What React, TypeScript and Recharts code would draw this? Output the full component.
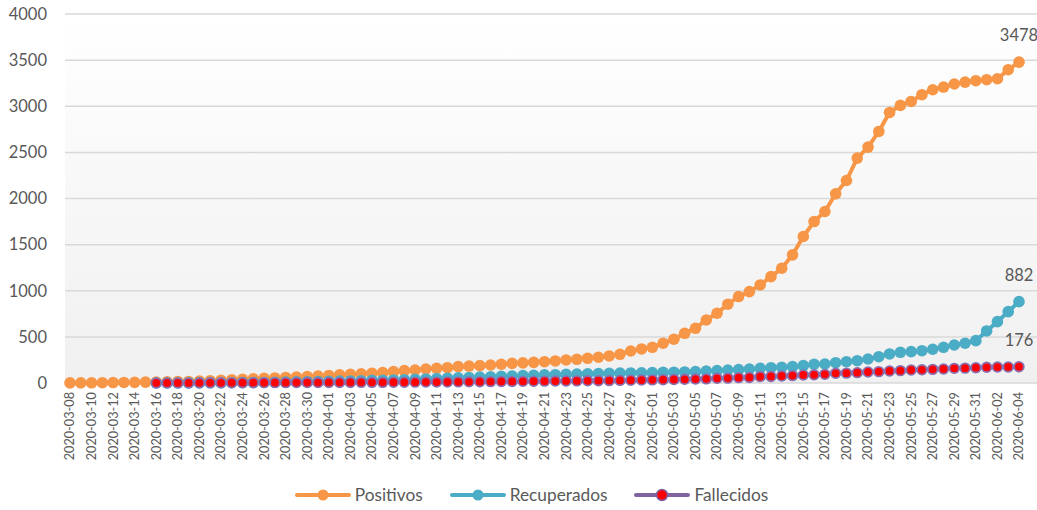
import React from 'react';
import { LineChart, Line, XAxis, YAxis, CartesianGrid, LabelList } from 'recharts';

const fechas: string[] = [
    '2020-03-08', '2020-03-09', '2020-03-10', '2020-03-11', '2020-03-12', '2020-03-13', '2020-03-14', '2020-03-15',
    '2020-03-16', '2020-03-17', '2020-03-18', '2020-03-19', '2020-03-20', '2020-03-21', '2020-03-22', '2020-03-23',
    '2020-03-24', '2020-03-25', '2020-03-26', '2020-03-27', '2020-03-28', '2020-03-29', '2020-03-30', '2020-03-31',
    '2020-04-01', '2020-04-02', '2020-04-03', '2020-04-04', '2020-04-05', '2020-04-06', '2020-04-07', '2020-04-08',
    '2020-04-09', '2020-04-10', '2020-04-11', '2020-04-12', '2020-04-13', '2020-04-14', '2020-04-15', '2020-04-16',
    '2020-04-17', '2020-04-18', '2020-04-19', '2020-04-20', '2020-04-21', '2020-04-22', '2020-04-23', '2020-04-24',
    '2020-04-25', '2020-04-26', '2020-04-27', '2020-04-28', '2020-04-29', '2020-04-30', '2020-05-01', '2020-05-02',
    '2020-05-03', '2020-05-04', '2020-05-05', '2020-05-06', '2020-05-07', '2020-05-08', '2020-05-09', '2020-05-10',
    '2020-05-11', '2020-05-12', '2020-05-13', '2020-05-14', '2020-05-15', '2020-05-16', '2020-05-17', '2020-05-18',
    '2020-05-19', '2020-05-20', '2020-05-21', '2020-05-22', '2020-05-23', '2020-05-24', '2020-05-25', '2020-05-26',
    '2020-05-27', '2020-05-28', '2020-05-29', '2020-05-30', '2020-05-31', '2020-06-01', '2020-06-02', '2020-06-03',
    '2020-06-04',
];

const positivos: number[] = [
    1, 1, 2, 3, 5, 6, 7, 9,
    10, 12, 15, 17, 20, 25, 30, 35, 40, 45, 50, 55, 60, 65, 70, 75, 82, 88, 93, 100, 106,
    112, 123, 134, 141, 152, 159, 166, 177, 184, 188, 195, 203, 213, 218, 224, 231, 239, 250, 257, 268,
    279, 293, 311, 347, 369, 387, 431, 474, 539, 593, 683,
    756, 854, 937, 991, 1063, 1153, 1244, 1389, 1588, 1750, 1859, 2051, 2195, 2438, 2557, 2727,
    2933, 3009, 3052, 3125, 3179, 3208, 3241, 3262, 3277, 3288, 3298, 3396, 3478,
];

const recuperados: (number | null)[] = [
    null, null, null, null, null, null, null, null,
    0, 0, 0, 1, 1, 2, 2, 3,
    4, 5, 6, 8, 10, 12, 14, 16,
    18, 20, 22, 25, 28, 30, 33, 36,
    40, 44, 48, 52, 56, 60, 64, 68,
    72, 76, 80, 84, 88, 90, 93, 96,
    99, 102, 105, 107, 109, 111, 113, 115, 117, 120,
    123, 130, 134, 141, 145, 152, 159, 166, 170, 177, 188, 203, 206, 220, 231, 242,
    260, 285, 315, 333, 340, 350, 366, 387, 412, 431, 459, 564, 665, 774, 882,
];

const fallecidos: (number | null)[] = [
    null, null, null, null, null, null, null, null,
    1, 1, 1, 1, 2, 2, 2, 3,
    3, 3, 4, 4, 4, 5, 5, 5,
    6, 6, 6, 7, 7, 7, 8, 8,
    9, 10, 10, 11, 12, 13, 14, 15,
    16, 17, 18, 19, 20, 21, 22, 23,
    24, 25, 26, 28, 30, 32, 34, 36, 38, 40,
    43, 45, 51, 53, 58, 60, 69, 71, 76, 80, 87, 89, 94, 105, 107, 112,
    119, 123, 130, 134, 141, 143, 148, 152, 159, 161, 166, 170, 173, 174, 176,
];

const yTicks: number[] = [0, 500, 1000, 1500, 2000, 2500, 3000, 3500, 4000];

const data = fechas.map((fecha, i) => ({
    fecha,
    Positivos: positivos[i],
    Recuperados: recuperados[i],
    Fallecidos: fallecidos[i],
}));

const FONT = 'Lato, "Open Sans", sans-serif';
const TEXT = '#595959';
const NARANJA = '#f79646';
const AZUL = '#4bacc6';
const MORADO = '#8064a2';
const ROJO = '#ff0000';
const LAST = fechas.length - 1;

const DateTick = (props: any) => {
    const { x, y, payload } = props;
    return (
        <text
            x={x}
            y={y}
            transform={`rotate(-90, ${x}, ${y})`}
            textAnchor="end"
            dy="0.35em"
            fontSize={12.7}
            fontFamily={FONT}
            fill={TEXT}
        >
            {payload.value}
        </text>
    );
};

const EndLabel = (props: any) => {
    const { x, y, index, value } = props;
    if (index !== LAST) return null;
    return (
        <text x={x} y={y - 27} textAnchor="middle" dominantBaseline="central" fontSize={16.5} fontFamily={FONT} fill={TEXT}>
            {value}
        </text>
    );
};

const legendItems = [
    { name: 'Positivos', line: NARANJA, dot: NARANJA },
    { name: 'Recuperados', line: AZUL, dot: AZUL },
    { name: 'Fallecidos', line: MORADO, dot: ROJO },
];

const Leyenda = () => (
    <div style={{ display: 'flex', justifyContent: 'center', alignItems: 'center', fontFamily: FONT, fontSize: 17.3, color: TEXT, paddingLeft: 26 }}>
        {legendItems.map((it, i) => (
            <div key={it.name} style={{ display: 'flex', alignItems: 'center', marginRight: i < legendItems.length - 1 ? 27 : 0 }}>
                <svg width={56} height={14} style={{ marginRight: 4 }}>
                    <line x1={2} y1={7} x2={54} y2={7} stroke={it.line} strokeWidth={4} strokeLinecap="round" />
                    <circle cx={28} cy={7} r={5.5} fill={it.dot} stroke={it.line} strokeWidth={it.dot === it.line ? 0 : 1.5} />
                </svg>
                <span>{it.name}</span>
            </div>
        ))}
    </div>
);

const App: React.FC = () => {
    return (
        <div style={{ position: 'absolute', left: 0, top: 0, width: 1037, height: 510, background: '#ffffff' }}>
            <LineChart width={1037} height={478} data={data} margin={{ top: 14, right: 0, left: 0, bottom: 0 }}>
                <defs>
                    <linearGradient id="fondo" x1="0" y1="0" x2="0" y2="1">
                        <stop offset="0%" stopColor="#ffffff" />
                        <stop offset="100%" stopColor="#f0f0f0" />
                    </linearGradient>
                </defs>
                <CartesianGrid vertical={false} stroke="#d9d9d9" strokeWidth={1.5} fill="url(#fondo)" />
                <XAxis
                    dataKey="fecha"
                    interval={1}
                    tick={<DateTick />}
                    tickLine={false}
                    axisLine={false}
                    tickSize={0}
                    tickMargin={9}
                    height={95}
                    padding={{ left: 5, right: 18 }}
                />
                <YAxis
                    domain={[0, 4000]}
                    ticks={yTicks}
                    tickLine={false}
                    axisLine={false}
                    tickSize={0}
                    tickMargin={18}
                    width={65}
                    tick={{ fontSize: 16.5, fontFamily: FONT, fill: TEXT }}
                />
                <Line
                    dataKey="Positivos"
                    type="linear"
                    stroke={NARANJA}
                    strokeWidth={4}
                    dot={{ r: 5.8, fill: NARANJA, stroke: 'none' }}
                    isAnimationActive={false}
                >
                    <LabelList dataKey="Positivos" content={<EndLabel />} />
                </Line>
                <Line
                    dataKey="Recuperados"
                    type="linear"
                    stroke={AZUL}
                    strokeWidth={4}
                    dot={{ r: 5.8, fill: AZUL, stroke: 'none' }}
                    isAnimationActive={false}
                >
                    <LabelList dataKey="Recuperados" content={<EndLabel />} />
                </Line>
                <Line
                    dataKey="Fallecidos"
                    type="linear"
                    stroke={MORADO}
                    strokeWidth={4}
                    dot={{ r: 4.8, fill: ROJO, stroke: '#8a6fb0', strokeWidth: 1.8 }}
                    isAnimationActive={false}
                >
                    <LabelList dataKey="Fallecidos" content={<EndLabel />} />
                </Line>
            </LineChart>
            <div style={{ position: 'absolute', left: 0, top: 484, width: 1037, height: 26 }}>
                <Leyenda />
            </div>
        </div>
    );
};

export default App;
